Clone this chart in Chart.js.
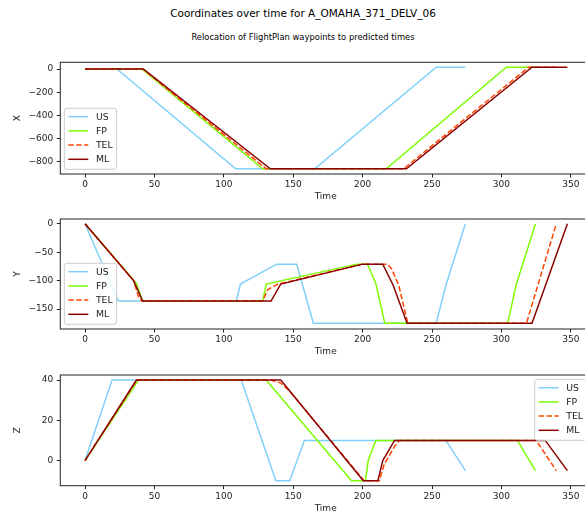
<!DOCTYPE html>
<html>
<head>
<meta charset="utf-8">
<script src="https://cdn.jsdelivr.net/npm/chart.js@4.4.0/dist/chart.umd.min.js"></script>
<style>
  html, body { margin: 0; padding: 0; background: #fff; width: 585px; height: 515px; overflow: hidden; }
  body { position: relative; font-family: "DejaVu Sans", sans-serif; color: #000; }
  .title { position: absolute; left: 0; width: 606px; text-align: center; white-space: nowrap; line-height: 1; }
  #sup { top: 8px; font-size: 10.5px; }
  #sub { top: 33px; font-size: 8.4px; }
  canvas { position: absolute; left: 0; }
</style>
</head>
<body>
<div class="title" id="sup">Coordinates over time for A_OMAHA_371_DELV_06</div>
<div class="title" id="sub">Relocation of FlightPlan waypoints to predicted times</div>
<canvas id="chartX" width="600" height="155" style="top:50px"></canvas>
<canvas id="chartY" width="600" height="153" style="top:207px"></canvas>
<canvas id="chartZ" width="600" height="154" style="top:363px"></canvas>
<script>
// --- data (time, value) ---
const TIME_TICKS = [0, 50, 100, 150, 200, 250, 300, 350];
const X_TICKS = [0, -200, -400, -600, -800];
const Y_TICKS = [0, -50, -100, -150];
const Z_TICKS = [0, 20, 40];

const X_US_T = [0, 23, 108.5, 165.5, 253, 274];
const X_US_V = [0, 0, -860, -860, 15, 15];
const X_FP_T = [0, 41, 128, 217, 303.5, 324.5];
const X_FP_V = [0, 0, -860, -860, 15, 15];
const X_TEL_T = [0, 41.5, 130.5, 229.5, 319.5, 339.5];
const X_TEL_V = [0, 0, -860, -860, 15, 15];
const X_ML_T = [0, 42, 133.5, 231.5, 322, 347.5];
const X_ML_V = [0, 0, -860, -860, 15, 15];

const Y_US_T = [0, 24, 109, 112, 138, 152.5, 164.5, 253, 260, 274];
const Y_US_V = [0, -136, -136, -106, -71, -71, -175, -175, -108, 0];
const Y_FP_T = [0, 37, 41.5, 128, 130.5, 196, 203.5, 209.5, 216, 304.5, 310.5, 324.5];
const Y_FP_V = [0, -105, -136, -136, -106, -71, -71, -105, -175, -175, -108, 0];
const Y_TEL_T = [0, 35, 38.5, 41, 128, 131.5, 139, 200, 218, 221, 226, 232.5, 318, 339.5];
const Y_TEL_V = [0, -100, -128, -136, -136, -116, -106, -71, -71, -80, -108, -175, -175, 0];
const Y_ML_T = [0, 35, 41.5, 134, 141, 200, 214.5, 222, 232, 322, 347.5];
const Y_ML_V = [0, -100, -136, -136, -106, -71, -71, -108, -175, -175, 0];

const Z_US_T = [0, 19.5, 112.5, 137.5, 147.5, 158, 260, 274];
const Z_US_V = [0, 40, 40, -10, -10, 10, 10, -5];
const Z_FP_T = [0, 38.5, 130.5, 192, 202, 204, 209.5, 311.5, 324.5];
const Z_FP_V = [0, 40, 40, -10, -10, 0, 10, 10, -5];
const Z_TEL_T = [0, 37.5, 134, 141, 147.5, 201, 212, 215.5, 223, 226.5, 325, 339.5];
const Z_TEL_V = [0, 40, 40, 38.5, 34.4, -10, -10, -2, 7, 10, 10, -5];
const Z_ML_T = [0, 37, 141, 200.5, 211, 214.5, 223, 331.5, 347.5];
const Z_ML_V = [0, 40, 40, -10, -10, 0, 10, 10, -5];

const FONT = '"DejaVu Sans", sans-serif';

// line styles per source (ML drawn last, like matplotlib)
const STYLE = {
  US:  { borderColor: '#7fd0fa', borderDash: [], order: 3 },
  FP:  { borderColor: '#7CFC00', borderDash: [], order: 2 },
  TEL: { borderColor: '#FF4500', borderDash: [5.5, 2.4], order: 1 },
  ML:  { borderColor: '#8B0000', borderDash: [], order: 0 }
};

function pts(t, v) {
  return t.map((x, i) => ({ x: x, y: v[i] }));
}

function makeDataset(label, t, v) {
  return {
    label: label,
    data: pts(t, v),
    borderWidth: 1.5,
    pointRadius: 0,
    tension: 0,
    fill: false,
    ...STYLE[label]
  };
}

function fmt(v) {
  return v < 0 ? '\u2212' + Math.abs(v) : String(v);
}

// spines + matplotlib-like legend box
const frameAndLegend = {
  id: 'frameAndLegend',
  afterDatasetsDraw(chart, args, opts) {
    const ctx = chart.ctx;
    const a = chart.chartArea;
    ctx.save();
    ctx.strokeStyle = '#222';
    ctx.lineWidth = 1;
    ctx.strokeRect(a.left, a.top, a.right - a.left, a.bottom - a.top);

    const fs = 9.3, row = 14.2, pad = 4, handle = 20, gap = 7.6, h = 61;
    ctx.font = fs + 'px ' + FONT;
    const sets = chart.data.datasets;
    const tw = Math.max(...sets.map(d => ctx.measureText(d.label).width));
    const w = pad + handle + gap + tw + pad;
    const x = opts.corner === 'upper right' ? a.right - 4 - w : a.left + 4;
    const y = opts.corner === 'upper right' ? a.top + 4.3 : a.bottom - 4.7 - h;

    ctx.beginPath();
    ctx.roundRect(x, y, w, h, 2.5);
    ctx.fillStyle = 'rgba(255,255,255,0.8)';
    ctx.fill();
    ctx.strokeStyle = '#cccccc';
    ctx.stroke();

    sets.forEach((d, i) => {
      const ly = y + 8.4 + i * row;
      ctx.beginPath();
      ctx.setLineDash(d.borderDash);
      ctx.strokeStyle = d.borderColor;
      ctx.lineWidth = d.borderWidth;
      ctx.moveTo(x + pad, ly);
      ctx.lineTo(x + pad + handle, ly);
      ctx.stroke();
      ctx.setLineDash([]);
      ctx.fillStyle = '#222';
      ctx.textBaseline = 'middle';
      ctx.textAlign = 'left';
      ctx.fillText(d.label, x + pad + handle + gap, ly + 0.5);
    });
    ctx.restore();
  }
};

function initPanel(id, cfg) {
  new Chart(document.getElementById(id), {
    type: 'line',
    data: {
      datasets: [
        makeDataset('US', cfg.us[0], cfg.us[1]),
        makeDataset('FP', cfg.fp[0], cfg.fp[1]),
        makeDataset('TEL', cfg.tel[0], cfg.tel[1]),
        makeDataset('ML', cfg.ml[0], cfg.ml[1])
      ]
    },
    options: {
      responsive: false,
      animation: false,
      layout: { padding: { top: cfg.padTop, right: 9, left: 0, bottom: 0 } },
      plugins: {
        legend: { display: false },
        tooltip: { enabled: false },
        frameAndLegend: { corner: cfg.corner }
      },
      scales: {
        x: {
          type: 'linear',
          min: -17.8,
          max: 364.5,
          afterBuildTicks: s => { s.ticks = TIME_TICKS.map(v => ({ value: v })); },
          afterFit: s => { s.height = cfg.xAxisH; },
          border: { display: false },
          grid: { drawOnChartArea: false, drawTicks: true, tickLength: 3.5, tickColor: '#222', tickWidth: 1 },
          ticks: { color: '#222', padding: 2, maxRotation: 0, autoSkip: false, font: { family: FONT, size: 9 }, callback: fmt },
          title: { display: true, text: 'Time', color: '#222', padding: { top: 0, bottom: 2.6 }, font: { family: FONT, size: 9 } }
        },
        y: {
          type: 'linear',
          min: cfg.yMin,
          max: cfg.yMax,
          afterBuildTicks: s => { s.ticks = cfg.ticks.map(v => ({ value: v })); },
          afterFit: s => { s.width = 60.3; },
          border: { display: false },
          grid: { drawOnChartArea: false, drawTicks: true, tickLength: 3.5, tickColor: '#222', tickWidth: 1 },
          ticks: { color: '#222', padding: 3.5, autoSkip: false, font: { family: FONT, size: 9 }, callback: fmt },
          title: { display: true, text: cfg.label, color: '#222', padding: { top: 12, bottom: 0 }, font: { family: FONT, size: 9 } }
        }
      }
    },
    plugins: [frameAndLegend]
  });
}

initPanel('chartX', {
  label: 'X', ticks: X_TICKS, yMin: -905, yMax: 58, padTop: 12.3, xAxisH: 31, corner: 'lower left',
  us: [X_US_T, X_US_V], fp: [X_FP_T, X_FP_V], tel: [X_TEL_T, X_TEL_V], ml: [X_ML_T, X_ML_V]
});
initPanel('chartY', {
  label: 'Y', ticks: Y_TICKS, yMin: -185, yMax: 8.3, padTop: 12, xAxisH: 31, corner: 'lower left',
  us: [Y_US_T, Y_US_V], fp: [Y_FP_T, Y_FP_V], tel: [Y_TEL_T, Y_TEL_V], ml: [Y_ML_T, Y_ML_V]
});
initPanel('chartZ', {
  label: 'Z', ticks: Z_TICKS, yMin: -12.5, yMax: 42.5, padTop: 12, xAxisH: 31.3, corner: 'upper right',
  us: [Z_US_T, Z_US_V], fp: [Z_FP_T, Z_FP_V], tel: [Z_TEL_T, Z_TEL_V], ml: [Z_ML_T, Z_ML_V]
});
</script>
</body>
</html>
